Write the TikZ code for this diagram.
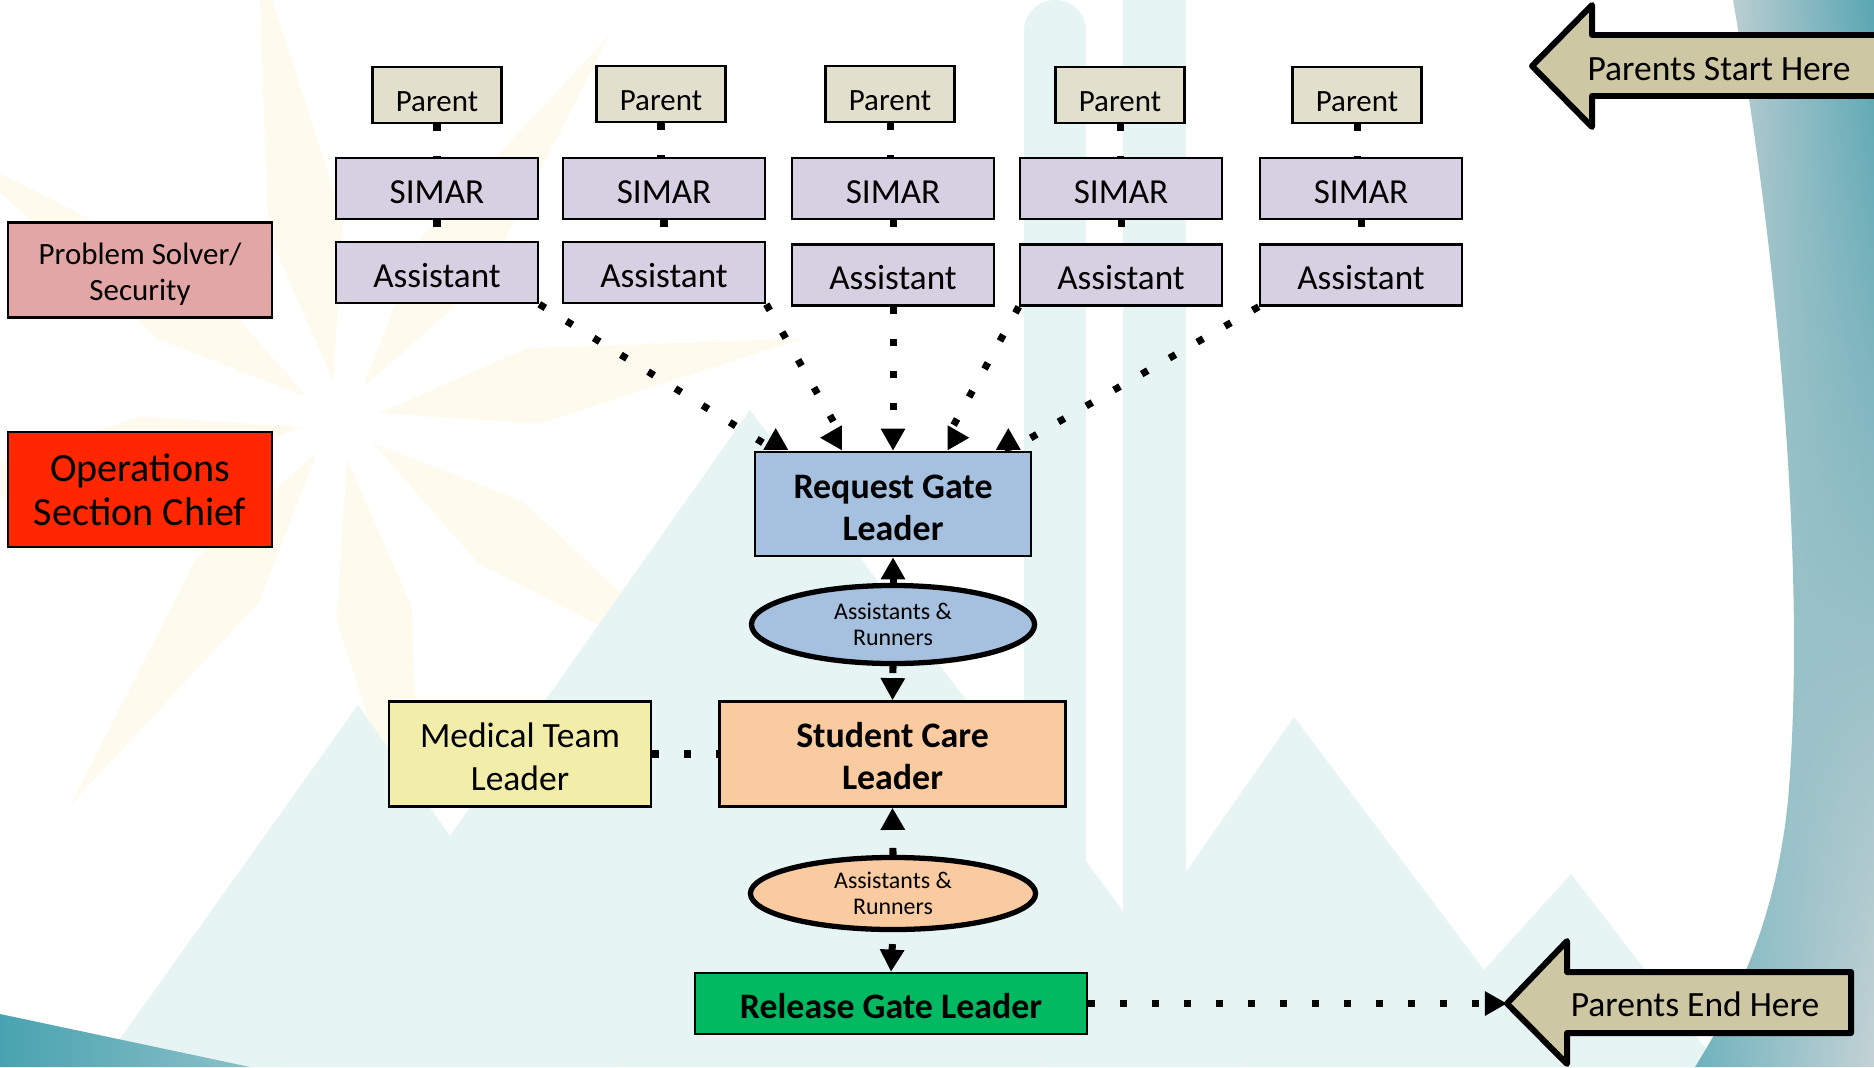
\documentclass[tikz,border=0pt]{standalone}
\usepackage{fontspec}
\setmainfont{Carlito}
\usetikzlibrary{arrows.meta,shapes.geometric,calc,shadings}

\definecolor{parentfill}{RGB}{226,224,204}
\definecolor{simarfill}{RGB}{215,208,227}
\definecolor{solverfill}{RGB}{227,166,166}
\definecolor{opsfill}{RGB}{255,38,0}
\definecolor{gatefill}{RGB}{165,193,223}
\definecolor{carefill}{RGB}{250,202,160}
\definecolor{medfill}{RGB}{242,238,170}
\definecolor{releasefill}{RGB}{0,185,96}
\definecolor{signfill}{RGB}{206,199,163}
\definecolor{paleteal}{RGB}{231,244,244}
\definecolor{paleyellow}{RGB}{254,251,238}
\definecolor{swgray}{RGB}{214,217,218}
\definecolor{swteal}{RGB}{88,166,178}
\definecolor{swlowteal}{RGB}{110,178,189}
\definecolor{swlowgray}{RGB}{196,210,213}
\definecolor{wedgedark}{RGB}{72,163,176}
\definecolor{wedgelight}{RGB}{140,192,200}

% invisible strut that lowers the first line of a label a little
\newcommand{\topstrut}[1]{\rule{0pt}{#1}}

\pgfdeclarelayer{bg}
\pgfdeclarelayer{links}
\pgfsetlayers{bg,links,main}

\begin{document}
\begin{tikzpicture}[x=0.01cm, y=-0.01cm,
  box/.style={draw=black, line width=0.7pt, inner sep=1pt, align=center, text=black},
  parentbox/.style={box, fill=parentfill, minimum width=1.29cm, minimum height=0.56cm,
    font=\fontsize{8.8}{10.2}\selectfont, text height=0.95em},
  rolebox/.style={box, fill=simarfill, minimum width=2.02cm, minimum height=0.61cm,
    font=\fontsize{10}{12}\selectfont, text height=0.85em},
  leadbox/.style={box, font=\bfseries\fontsize{10.2}{12}\selectfont},
  crew/.style={ellipse, draw=black, line width=1.5pt, inner sep=0pt, align=center,
    font=\fontsize{6.8}{7.4}\selectfont},
  flowlink/.style={line width=2pt, dash pattern=on 2pt off 7.1pt},
  arrowend/.style={-{Triangle[length=6.3pt,width=6.6pt]}},
  signshape/.style={draw=black, line width=1.7pt, fill=signfill, line join=round},
  signtext/.style={font=\fontsize{10.1}{12}\selectfont, inner sep=0pt}
]
\useasboundingbox (0,0) rectangle (1874,1067);

% ---------- watermark background ----------
\begin{pgfonlayer}{bg}
\begin{scope}
  \clip (0,0) rectangle (1874,1067);
  \fill[white] (0,0) rectangle (1874,1067);
  % faint sun rays
  \foreach \a [evaluate=\a as \al using \a-11, evaluate=\a as \ar using \a+11]
      in {-100,-55,-10,35,80,125,170,-145} {
    \fill[paleyellow] ($(340,420)+(\a:40)$) -- ($(340,420)+(\al:200)$)
      -- ($(340,420)+(\a:470)$) -- ($(340,420)+(\ar:200)$) -- cycle;
  }
  % faint mountains and columns
  \fill[paleteal] (100,1067) -- (358,705) -- (612,1067) -- cycle;
  \fill[paleteal] (287,1067) -- (750,410) -- (1239,1067) -- cycle;
  \fill[paleteal] (1050,1067) -- (1294,717) -- (1484,970) -- (1571,874) -- (1720,1067) -- cycle;
  \fill[paleteal] (1024,31) rectangle (1086,1067);
  \fill[paleteal] (1055,31) circle[radius=31];
  \fill[paleteal] (1123,0) rectangle (1186,1067);
  % corner swooshes
  \shade[left color=wedgedark, right color=wedgelight]
    (0,1014) -- (250,1067) -- (0,1067) -- cycle;
  \shade[upper left=swgray, upper right=swteal, lower left=swlowteal, lower right=swlowgray]
    (1733,0) .. controls (1785,300) and (1805,600) .. (1788,800)
    .. controls (1775,930) and (1730,1010) .. (1695,1067)
    -- (1874,1067) -- (1874,0) -- cycle;
\end{scope}
\end{pgfonlayer}

% ---------- parents, SIMARs and assistants ----------
\node[parentbox] (p1) at (437,95) {Parent};
\node[parentbox] (p2) at (661,94) {Parent};
\node[parentbox] (p3) at (890,94) {Parent};
\node[parentbox] (p4) at (1120,95) {Parent};
\node[parentbox] (p5) at (1357,95) {Parent};

\node[rolebox] (s1) at (437,188.5) {SIMAR};
\node[rolebox] (s2) at (664,188.5) {SIMAR};
\node[rolebox] (s3) at (893,188.5) {SIMAR};
\node[rolebox] (s4) at (1121,188.5) {SIMAR};
\node[rolebox] (s5) at (1361,188.5) {SIMAR};

\node[rolebox] (a1) at (437,272.5) {Assistant};
\node[rolebox] (a2) at (664,272.5) {Assistant};
\node[rolebox] (a3) at (893,275) {Assistant};
\node[rolebox] (a4) at (1121,275) {Assistant};
\node[rolebox] (a5) at (1361,275) {Assistant};

% ---------- side roles ----------
\node[box, fill=solverfill, minimum width=2.64cm, minimum height=0.95cm,
      font=\fontsize{8.8}{10.2}\selectfont] (solver) at (140,270) {\topstrut{0.95em}Problem Solver/\\Security};
\node[box, fill=opsfill, minimum width=2.64cm, minimum height=1.15cm,
      font=\fontsize{11.4}{12.5}\selectfont] (ops) at (140,489.5) {Operations\\Section Chief};

% ---------- gate chain ----------
\node[leadbox, fill=gatefill, minimum width=2.76cm, minimum height=1.04cm] (rgl) at (893,504) {\topstrut{0.85em}Request Gate\\Leader};
\node[crew, fill=gatefill, minimum width=2.83cm, minimum height=0.78cm] (e1) at (893,624.5) {Assistants \&\\Runners};
\node[leadbox, fill=carefill, minimum width=3.46cm, minimum height=1.05cm] (scl) at (892.5,754) {\topstrut{0.8em}Student Care\\Leader};
\node[box, fill=medfill, minimum width=2.62cm, minimum height=1.05cm,
      font=\fontsize{10.1}{12.2}\selectfont] (med) at (520,754) {\topstrut{0.85em}Medical Team\\Leader};
\node[crew, fill=carefill, minimum width=2.85cm, minimum height=0.72cm] (e2) at (893,893.5) {Assistants \&\\Runners};
\node[leadbox, fill=releasefill, minimum width=3.92cm, minimum height=0.61cm, text height=0.85em] (rel) at (891,1003.5) {Release Gate Leader};

% ---------- start and end signs ----------
\draw[signshape] (1532,66) -- (1592,5) -- (1592,35) -- (1900,35) -- (1900,96)
  -- (1592,96) -- (1592,127) -- cycle;
\node[signtext] (starttxt) at (1719,69.5) {Parents Start Here};

\coordinate (endtip) at (1507,1003.5);
\draw[signshape] (endtip) -- (1567,941) -- (1567,972) -- (1851,972) -- (1851,1033)
  -- (1567,1033) -- (1567,1064) -- cycle;
\node[signtext] (endtxt) at (1695,1004) {Parents End Here};

% ---------- connectors ----------
\begin{pgfonlayer}{links}
  \foreach \i in {1,...,5} {
    \draw[flowlink] (p\i.south) -- (p\i.south |- s\i.north);
    \draw[flowlink] (s\i.south) -- (s\i.south |- a\i.north);
  }
  \draw[flowlink, arrowend] (a1.south east) -- ($(rgl.north west)+(22,0)$) -- ++(0,-23);
  \draw[flowlink, arrowend] (a2.south east) -- ($(rgl.north west)+(89,-13)$) -- ++(-23,0);
  \draw[flowlink, arrowend] (a3.south) -- (rgl.north);
  \draw[flowlink, arrowend] (a4.south west) -- ($(rgl.north west)+(193,-13)$) -- ++(23,0);
  \draw[flowlink, arrowend] (a5.south west) -- ($(rgl.north east)+(-24,0)$) -- ++(0,-23);

  \draw[flowlink, arrowend] (e1.north) -- (rgl.south);
  \draw[flowlink, arrowend] (e1.south) -- (scl.north);
  \draw[flowlink, arrowend] (e2.north) -- (scl.south);
  \draw[flowlink, arrowend, dash phase=5.7pt] (e2.south) -- (rel.north);
  \draw[flowlink] (med.east) -- (scl.west);
  \draw[flowlink, arrowend] (rel.east) -- (endtip);
\end{pgfonlayer}
\end{tikzpicture}
\end{document}
